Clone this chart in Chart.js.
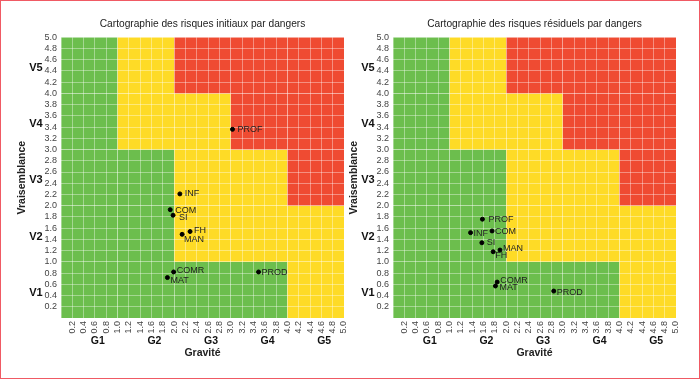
<!DOCTYPE html>
<html>
<head>
<meta charset="utf-8">
<script src="https://cdn.jsdelivr.net/npm/chart.js@4"></script>
<style>
  html, body { margin: 0; padding: 0; background: #fff; }
  #frame { position: relative; width: 700px; height: 379px; box-sizing: border-box; border: 1px solid #f05a64; overflow: hidden; }
  .box { position: absolute; top: 0; width: 350px; height: 379px; }
</style>
</head>
<body>
<div id="frame">
  <div class="box" style="left:-1px"><canvas id="initChart"></canvas></div>
  <div class="box" style="left:331px"><canvas id="resChart"></canvas></div>
</div>
<script>
// data
const dangers = ['PROF', 'INF', 'COM', 'SI', 'FH', 'MAN', 'COMR', 'MAT', 'PROD'];
const graviteInit = [3.03, 2.10, 1.93, 1.98, 2.28, 2.14, 1.99, 1.88, 3.49];
const vraisInit   = [3.36, 2.21, 1.93, 1.83, 1.54, 1.49, 0.82, 0.72, 0.82];
const graviteRes  = [1.58, 1.37, 1.75, 1.57, 1.77, 1.89, 1.84, 1.81, 2.84];
const vraisRes    = [1.76, 1.52, 1.55, 1.34, 1.18, 1.21, 0.64, 0.57, 0.48];
const gLabels = ['G1', 'G2', 'G3', 'G4', 'G5'];
const vLabels = ['V1', 'V2', 'V3', 'V4', 'V5'];
// risk level of each 1x1 cell, rows = vraisemblance 0-1 .. 4-5, cols = gravite 0-1 .. 4-5
const zones = [
  [0, 0, 0, 0, 1],
  [0, 0, 1, 1, 1],
  [0, 0, 1, 1, 2],
  [0, 1, 1, 2, 2],
  [0, 1, 2, 2, 2]
];
const zoneColors = ['#6cbe4d', '#fedb26', '#ef4b32'];

// label offsets (px) so names don't overlap
const offInit = [[5, 0], [5, 0], [5, 1], [6, 2], [4, -1], [2, 5], [3, -1], [3, 3], [3, 1]];
const offRes  = [[6, 0], [3, 1], [3, 1], [5, 0], [2, 4], [3, -2], [3, -2], [4, 2], [3, 1]];

const font = "'Liberation Sans', Arial, sans-serif";

const riskPlugin = {
  id: 'risk',
  beforeDraw(chart) {
    const {ctx, scales: {x, y}} = chart;
    ctx.save();
    zones.forEach((row, r) => {
      row.forEach((lvl, c) => {
        const x0 = x.getPixelForValue(c), x1 = x.getPixelForValue(c + 1);
        const y0 = y.getPixelForValue(r + 1), y1 = y.getPixelForValue(r);
        ctx.fillStyle = zoneColors[lvl];
        ctx.fillRect(x0, y0, x1 - x0, y1 - y0);
      });
    });
    ctx.restore();
  },
  afterDraw(chart) {
    const {ctx, scales: {x, y}} = chart;
    const ds = chart.data.datasets[0];
    const offs = chart.options.plugins.risk.offsets;
    ctx.save();
    ctx.fillStyle = '#222';
    ctx.font = '9px ' + font;
    ctx.textAlign = 'left';
    ctx.textBaseline = 'middle';
    ds.data.forEach((p, i) => {
      ctx.fillText(ds.labels[i], x.getPixelForValue(p.x) + offs[i][0], y.getPixelForValue(p.y) + offs[i][1]);
    });
    ctx.fillStyle = '#111';
    ctx.font = 'bold 10.5px ' + font;
    ctx.textAlign = 'center';
    gLabels.forEach((g, i) => {
      ctx.fillText(g, x.getPixelForValue(i + 0.65), 340);
    });
    ctx.font = 'bold 11px ' + font;
    vLabels.forEach((v, i) => {
      ctx.fillText(v, 36, y.getPixelForValue(i + 0.45));
    });
    ctx.restore();
  }
};

function tickFmt(v) {
  return Math.abs(v) < 1e-6 ? '' : Number(v).toFixed(1);
}

function makeChart(id, title, gx, vy, offsets) {
  const pts = gx.map((g, i) => ({x: g, y: vy[i]}));
  return new Chart(document.getElementById(id), {
    type: 'scatter',
    data: {
      datasets: [{
        data: pts,
        labels: dangers,
        backgroundColor: '#000',
        borderColor: '#000',
        pointRadius: 2,
        pointHoverRadius: 2
      }]
    },
    options: {
      responsive: true,
      maintainAspectRatio: false,
      animation: false,
      layout: { padding: { left: 12, right: 6, top: 4, bottom: 17 } },
      plugins: {
        legend: { display: false },
        tooltip: { enabled: false },
        title: {
          display: true,
          text: title,
          fullSize: false,
          color: '#222',
          font: { family: font, size: 10.2, weight: 'normal' },
          padding: { top: 13, bottom: 7 }
        },
        risk: { offsets: offsets }
      },
      scales: {
        x: {
          type: 'linear',
          min: 0, max: 5,
          border: { display: false },
          grid: { color: 'rgba(255,255,255,0.38)', drawTicks: false, lineWidth: 1 },
          ticks: {
            stepSize: 0.2, autoSkip: false, minRotation: 90, maxRotation: 90,
            padding: 3, color: '#444', font: { family: font, size: 9 },
            callback: tickFmt
          },
          title: {
            display: true, text: 'Gravité', color: '#222',
            font: { family: font, size: 10.5, weight: 'bold' },
            padding: { top: 4, bottom: 4 }
          },
          afterFit(s) { s.height = 45; s.paddingLeft = 0; s.paddingRight = 0; }
        },
        y: {
          type: 'linear',
          min: 0, max: 5,
          border: { display: false },
          grid: { color: 'rgba(255,255,255,0.38)', drawTicks: false, lineWidth: 1 },
          ticks: {
            stepSize: 0.2, autoSkip: false, padding: 4, color: '#444',
            font: { family: font, size: 9 },
            callback: tickFmt
          },
          title: {
            display: true, text: 'Vraisemblance', color: '#222',
            font: { family: font, size: 10.5, weight: 'bold' },
            padding: { top: 4, bottom: 4 }
          },
          afterFit(s) { s.width = 49; s.paddingTop = 0; s.paddingBottom = 0; }
        }
      }
    },
    plugins: [riskPlugin]
  });
}

makeChart('initChart', 'Cartographie des risques initiaux par dangers', graviteInit, vraisInit, offInit);
makeChart('resChart', 'Cartographie des risques résiduels par dangers', graviteRes, vraisRes, offRes);
</script>
</body>
</html>
